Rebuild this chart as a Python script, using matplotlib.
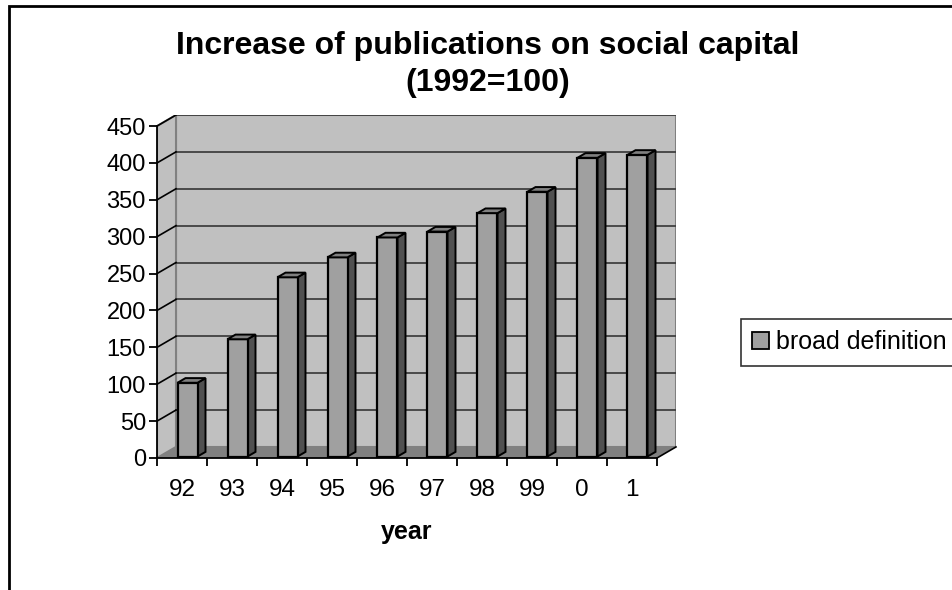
import matplotlib
matplotlib.use("Agg")
import matplotlib.pyplot as plt
from matplotlib.patches import Polygon, Rectangle, Patch

plt.rcParams['font.family'] = ['Liberation Sans', 'DejaVu Sans']

years = ["92", "93", "94", "95", "96", "97", "98", "99", "0", "1"]
broad_definition = [100, 159, 243, 270, 297, 305, 330, 359, 405, 409]
y_ticks = [0, 50, 100, 150, 200, 250, 300, 350, 400, 450]

W, H = 952, 590
fig = plt.figure(figsize=(W / 100, H / 100), dpi=100)

# axes placement in pixels
px_left, px_right = 157, 676
px_bottom, px_top = 458, 115
ax = fig.add_axes([px_left / W, 1 - px_bottom / H,
                   (px_right - px_left) / W, (px_bottom - px_top) / H])

n = len(years)
dx = 0.38          # depth offset in category units
dyv = 15           # depth offset in value units
ymax = 450
ax.set_xlim(-0.5, n - 0.5 + dx)
ax.set_ylim(0, ymax + dyv)

wall = "#C0C0C0"
wall_edge = "#808080"
floor = "#808080"
grid_c = "#404040"

# back wall
ax.add_patch(Polygon([(-0.5 + dx, dyv), (n - 0.5 + dx, dyv),
                      (n - 0.5 + dx, ymax + dyv), (-0.5 + dx, ymax + dyv)],
                     closed=True, facecolor=wall, edgecolor=wall_edge, lw=1.5, zorder=1))
# side wall
ax.add_patch(Polygon([(-0.5, 0), (-0.5 + dx, dyv), (-0.5 + dx, ymax + dyv), (-0.5, ymax)],
                     closed=True, facecolor=wall, edgecolor=wall_edge, lw=1.5, zorder=1))
# gridlines
for v in y_ticks[1:]:
    ax.plot([-0.5 + dx, n - 0.5 + dx], [v + dyv, v + dyv], color=grid_c, lw=1.3, zorder=2)
    ax.plot([-0.5, -0.5 + dx], [v, v + dyv], color="black", lw=1.2, zorder=2)
# floor
ax.add_patch(Polygon([(-0.5, 0), (n - 0.5, 0), (n - 0.5 + dx, dyv), (-0.5 + dx, dyv)],
                     closed=True, facecolor=floor, edgecolor="none", zorder=3))
ax.plot([n - 0.5, n - 0.5 + dx], [0, dyv], color="black", lw=1.2, zorder=3, clip_on=False)

# bars
bw = 0.40
bdx, bdy = 0.16, 6.3
sx, by = 0.11, 2.0
for i, v in enumerate(broad_definition):
    x0 = i + sx - bw / 2
    x1 = x0 + bw
    ax.bar(i + sx, v, width=bw, bottom=by, color="#A0A0A0", edgecolor="black",
           lw=1.6, zorder=5)
    ax.add_patch(Polygon([(x1, by), (x1 + bdx, by + bdy), (x1 + bdx, by + v + bdy), (x1, by + v)],
                         closed=True, facecolor="#505050", edgecolor="black", lw=1.4, zorder=4))
    ax.add_patch(Polygon([(x0, by + v), (x1, by + v), (x1 + bdx, by + v + bdy), (x0 + bdx, by + v + bdy)],
                         closed=True, facecolor="#808080", edgecolor="black", lw=1.4, zorder=6))

# axes styling
for s in ["top", "right"]:
    ax.spines[s].set_visible(False)
ax.spines["left"].set_bounds(0, ymax)
ax.spines["bottom"].set_bounds(-0.5, n - 0.5)
for s in ["left", "bottom"]:
    ax.spines[s].set_linewidth(1.3)
    ax.spines[s].set_zorder(7)
ax.set_facecolor("none")
ax.set_yticks(y_ticks)
ax.set_yticklabels([str(t) for t in y_ticks], fontsize=17)
ax.tick_params(axis="y", direction="out", length=6, width=1.3, pad=2)
ax.set_xticks(range(n))
ax.set_xticklabels(years, fontsize=17.5)
ax.set_xticks([i - 0.5 for i in range(n + 1)], minor=True)
ax.tick_params(axis="x", which="major", length=0, pad=15)
ax.tick_params(axis="x", which="minor", direction="out", length=6, width=1.3)
ax.set_xlabel("year", fontsize=18, fontweight="bold")
ax.xaxis.set_label_coords((407 - px_left) / (px_right - px_left), -(532 - px_bottom) / (px_bottom - px_top))
ax.xaxis.label.set_va("center")

fig.text(488 / W, 1 - 46 / H, "Increase of publications on social capital",
         ha="center", va="center", fontsize=23, fontweight="bold")
fig.text(488 / W, 1 - 83 / H, "(1992=100)",
         ha="center", va="center", fontsize=23, fontweight="bold")

# legend
leg = fig.legend(handles=[Patch(facecolor="#A0A0A0", edgecolor="black", lw=1.3)],
                 labels=["broad definition"], loc="upper left",
                 bbox_to_anchor=(741 / W, 1 - 319 / H), fontsize=18,
                 frameon=True, fancybox=False, borderpad=0.45, handlelength=0.65,
                 handleheight=0.65, handletextpad=0.3, borderaxespad=0)
leg.get_frame().set_edgecolor("black")
leg.get_frame().set_linewidth(1.2)

# outer border
fig.add_artist(Rectangle((9 / W, -0.2), 1.2, 1.2 - 6 / H, transform=fig.transFigure,
                         fill=False, edgecolor="black", lw=2))

fig.savefig("out.png", dpi=100)
